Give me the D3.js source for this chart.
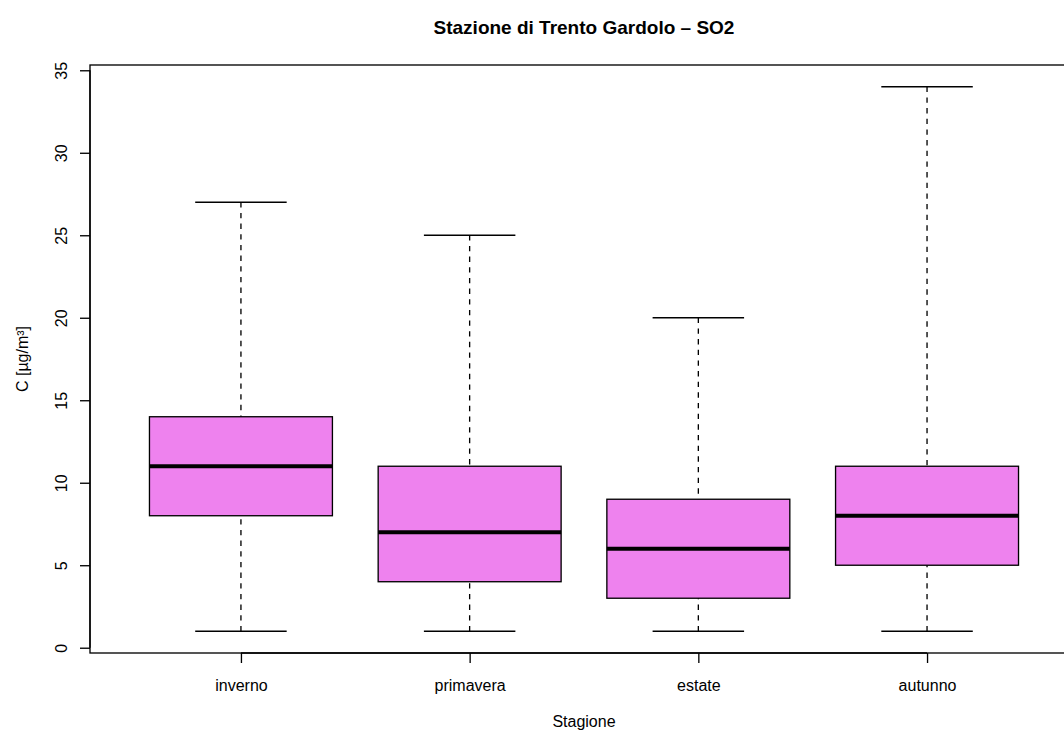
<!DOCTYPE html>
<html>
<head>
<meta charset="utf-8">
<script src="https://cdn.jsdelivr.net/npm/d3@7"></script>
<style>
  html, body { margin: 0; padding: 0; background: #fff; }
  svg { display: block; font-family: "Liberation Sans", Arial, Helvetica, sans-serif; }
</style>
</head>
<body>
<svg id="chart" width="1064" height="734"></svg>
<script>
// ---- data ----
const categories = ["inverno", "primavera", "estate", "autunno"];
const mins    = [1, 1, 1, 1];
const q1s     = [8, 4, 3, 5];
const medians = [11, 7, 6, 8];
const q3s     = [14, 11, 9, 11];
const maxs    = [27, 25, 20, 34];
const yTicks  = [0, 5, 10, 15, 20, 25, 30, 35];
const title   = "Stazione di Trento Gardolo \u2013 SO2";
const xLabel  = "Stagione";
const yLabel  = "C [\u00b5g/m\u00b3]";

// ---- layout ----
const svg = d3.select("#chart");
const plot = { left: 90, top: 65, bottom: 653 };
const n = categories.length;
const xExt = (n) * 0.04;
const unit = 228.7;
const plotRight = plot.left + (n + 2 * xExt) * unit;

const x = d3.scaleLinear()
  .domain([0.5 - xExt, n + 0.5 + xExt])
  .range([plot.left, plotRight]);

const dMin = d3.min(mins), dMax = d3.max(maxs);
const r = dMax - dMin;
const y = d3.scaleLinear()
  .domain([dMin - 0.04 * r, dMax + 0.04 * r])
  .range([plot.bottom, plot.top]);

const lw = 1.33;
const boxHalf = 0.4;
const capHalf = 0.2;

const data = categories.map((c, i) => ({
  cat: c, pos: i + 1, min: mins[i], q1: q1s[i], med: medians[i], q3: q3s[i], max: maxs[i]
}));

const g = svg.append("g");

// whiskers (dashed)
g.selectAll("line.wlo").data(data).enter().append("line")
  .attr("x1", d => x(d.pos)).attr("x2", d => x(d.pos))
  .attr("y1", d => y(d.min)).attr("y2", d => y(d.q1))
  .attr("stroke", "#000").attr("stroke-width", lw).attr("stroke-dasharray", "5.33,5.33");
g.selectAll("line.whi").data(data).enter().append("line")
  .attr("x1", d => x(d.pos)).attr("x2", d => x(d.pos))
  .attr("y1", d => y(d.max)).attr("y2", d => y(d.q3))
  .attr("stroke", "#000").attr("stroke-width", lw).attr("stroke-dasharray", "5.33,5.33");

// staples
g.selectAll("line.capmin").data(data).enter().append("line")
  .attr("x1", d => x(d.pos - capHalf)).attr("x2", d => x(d.pos + capHalf))
  .attr("y1", d => y(d.min)).attr("y2", d => y(d.min))
  .attr("stroke", "#000").attr("stroke-width", lw);
g.selectAll("line.capmax").data(data).enter().append("line")
  .attr("x1", d => x(d.pos - capHalf)).attr("x2", d => x(d.pos + capHalf))
  .attr("y1", d => y(d.max)).attr("y2", d => y(d.max))
  .attr("stroke", "#000").attr("stroke-width", lw);

// boxes
g.selectAll("rect.box").data(data).enter().append("rect")
  .attr("x", d => x(d.pos - boxHalf))
  .attr("width", d => x(d.pos + boxHalf) - x(d.pos - boxHalf))
  .attr("y", d => y(d.q3))
  .attr("height", d => y(d.q1) - y(d.q3))
  .attr("fill", "#EE82EE").attr("stroke", "#000").attr("stroke-width", lw);

// medians
g.selectAll("line.med").data(data).enter().append("line")
  .attr("x1", d => x(d.pos - boxHalf)).attr("x2", d => x(d.pos + boxHalf))
  .attr("y1", d => y(d.med)).attr("y2", d => y(d.med))
  .attr("stroke", "#000").attr("stroke-width", 4);

// plot frame
svg.append("rect")
  .attr("x", plot.left).attr("y", plot.top)
  .attr("width", plotRight - plot.left).attr("height", plot.bottom - plot.top)
  .attr("fill", "none").attr("stroke", "#000").attr("stroke-width", lw);

// y axis
const yAxis = d3.axisLeft(y).tickValues(yTicks).tickSize(10).tickPadding(13).tickSizeOuter(0);
const ya = svg.append("g").attr("transform", `translate(${plot.left},0)`).call(yAxis);
ya.select(".domain").remove();
ya.append("line")
  .attr("x1", 0).attr("x2", 0)
  .attr("y1", y(yTicks[0])).attr("y2", y(yTicks[yTicks.length - 1]))
  .attr("stroke", "#000").attr("stroke-width", lw);
ya.selectAll(".tick line").attr("stroke-width", lw);
ya.selectAll(".tick text")
  .attr("font-size", 16).attr("fill", "#000")
  .attr("font-family", "Liberation Sans, Arial, sans-serif")
  .attr("text-anchor", "middle")
  .attr("dy", null)
  .attr("x", null)
  .attr("transform", "translate(-23,0) rotate(-90)")
  .attr("dominant-baseline", "auto");

// x axis
const xAxis = d3.axisBottom(x).tickValues(data.map(d => d.pos))
  .tickFormat((d, i) => categories[i]).tickSize(10).tickPadding(0).tickSizeOuter(0);
const xa = svg.append("g").attr("transform", `translate(0,${plot.bottom})`).call(xAxis);
xa.select(".domain").remove();
xa.append("line")
  .attr("x1", x(1)).attr("x2", x(n))
  .attr("y1", 0).attr("y2", 0)
  .attr("stroke", "#000").attr("stroke-width", lw);
xa.selectAll(".tick line").attr("stroke-width", lw);
xa.selectAll(".tick text")
  .attr("font-size", 16).attr("fill", "#000")
  .attr("font-family", "Liberation Sans, Arial, sans-serif")
  .attr("dy", null).attr("y", 38);

// title
svg.append("text")
  .attr("x", (plot.left + plotRight) / 2).attr("y", 34)
  .attr("text-anchor", "middle")
  .attr("font-size", 19).attr("font-weight", "bold")
  .text(title);

// axis labels
svg.append("text")
  .attr("x", (plot.left + plotRight) / 2).attr("y", 727)
  .attr("text-anchor", "middle").attr("font-size", 16)
  .text(xLabel);
svg.append("text")
  .attr("transform", `translate(28,${(plot.top + plot.bottom) / 2}) rotate(-90)`)
  .attr("text-anchor", "middle").attr("font-size", 16)
  .text(yLabel);
</script>
</body>
</html>
